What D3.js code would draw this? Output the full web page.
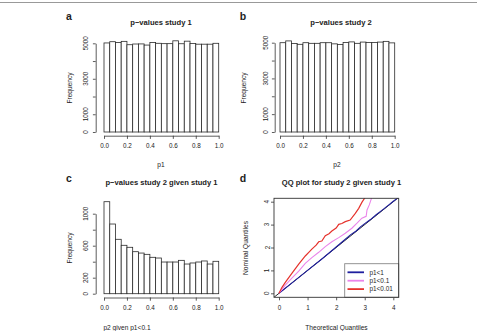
<!DOCTYPE html>
<html>
<head>
<meta charset="utf-8">
<title>p-values study 1 / study 2</title>
<script src="https://d3js.org/d3.v7.min.js"></script>
<style>
body { margin: 0; background: #fff; }
svg text { font-family: "Liberation Sans", Arial, Helvetica, sans-serif; fill: #222; }
</style>
</head>
<body>
<div id="chart"></div>
<script>
// histogram bins (20 bins of width 0.05)
var binEdges = [0, 0.05, 0.1, 0.15, 0.2, 0.25, 0.3, 0.35, 0.4, 0.45, 0.5,
                0.55, 0.6, 0.65, 0.7, 0.75, 0.8, 0.85, 0.9, 0.95, 1.0];
var study1Counts = [5020, 5090, 5050, 5110, 4920, 4960, 4965, 4900, 5040, 5000,
                    4980, 4980, 5140, 4975, 5120, 4990, 4950, 4950, 4950, 5000];
var study2Counts = [5000, 5100, 4960, 4910, 5000, 4965, 4965, 5000, 5000, 4935,
                    4900, 5015, 5045, 4965, 5035, 5015, 5015, 5035, 5075, 4990];
var study2GivenCounts = [1150, 871, 680, 605, 580, 525, 508, 492, 455, 446,
                         396, 396, 396, 417, 371, 384, 396, 409, 371, 405];

var histTicksX = [0, 0.2, 0.4, 0.6, 0.8, 1.0];
var uniformTicksY = [0, 1000, 2000, 3000, 4000, 5000];
var uniformLabelsY = [0, 1000, 3000, 5000];
var givenTicksY = [0, 200, 400, 600, 800, 1000];
var givenLabelsY = [0, 200, 600, 1000];
var qqTicks = [0, 1, 2, 3, 4];

// QQ curves: [theoretical, nominal]
var qqAll = [[0, 0], [0.5, 0.5], [1, 1.0], [1.5, 1.5], [2, 2.02], [2.3, 2.34], [2.5, 2.55],
             [2.7, 2.72], [2.85, 2.9], [3.0, 3.04], [3.2, 3.22], [3.4, 3.43], [3.6, 3.62],
             [3.8, 3.82], [4.0, 4.02], [4.25, 4.25]];
var qqP01 = [[0, 0], [0.22, 0.36], [0.45, 0.66], [0.69, 0.97], [0.92, 1.31], [1.15, 1.56],
             [1.39, 1.79], [1.62, 2.04], [1.85, 2.25], [2.09, 2.43], [2.32, 2.62],
             [2.55, 2.84], [2.73, 3.06], [2.9, 3.28], [3.05, 3.36], [3.08, 3.64],
             [3.16, 3.86], [3.25, 4.2]];
var qqP001 = [[0, 0], [0.1, 0.25], [0.22, 0.48], [0.45, 0.87], [0.69, 1.27], [0.92, 1.63],
              [1.05, 1.8], [1.15, 1.93], [1.3, 2.1], [1.39, 2.25], [1.5, 2.28],
              [1.62, 2.52], [1.75, 2.6], [1.85, 2.72], [2.0, 2.85], [2.09, 3.01],
              [2.2, 3.05], [2.32, 3.13], [2.49, 3.2], [2.67, 3.49], [2.79, 3.71],
              [2.9, 3.97], [3.02, 4.2]];
var legendLabels = ["p1<1", "p1<0.1", "p1<0.01"];
var legendColors = ["#1f1f9e", "#ea84ea", "#e5322c"];

var svg = d3.select("#chart").append("svg")
  .attr("width", 477).attr("height", 331);

// thin rule at the top
svg.append("line").attr("x1", 0).attr("x2", 477).attr("y1", 2.5).attr("y2", 2.5)
  .style("stroke", "#999").style("stroke-width", 1);

function panelLetter(txt, x, y) {
  svg.append("text").attr("x", x).attr("y", y).text(txt)
    .style("font-size", "10.5px").style("font-weight", "bold").attr("text-anchor", "middle");
}
function title(txt, x, y) {
  svg.append("text").attr("x", x).attr("y", y).text(txt)
    .style("font-size", "7.6px").style("font-weight", "bold").attr("text-anchor", "middle");
}
function label(txt, x, y, rot) {
  var t = svg.append("text").attr("x", x).attr("y", y).text(txt)
    .style("font-size", "6.6px").attr("text-anchor", "middle");
  if (rot) t.attr("transform", "rotate(-90," + x + "," + y + ")");
}

function styleAxis(g) {
  g.selectAll("path, line").style("stroke", "#333").style("stroke-width", 0.8);
  g.selectAll("text").style("font-size", "6.3px").style("fill", "#222")
    .style("font-family", '"Liberation Sans", Arial, sans-serif');
}

// y axis with R-style rotated labels
function yAxis(y, axisX, labelX, ticks, labels) {
  var g = svg.append("g").attr("transform", "translate(" + axisX + ",0)")
    .call(d3.axisLeft(y).tickValues(ticks).tickSize(2.8).tickSizeOuter(0).tickFormat(""));
  styleAxis(g);
  svg.append("g").selectAll("text").data(labels).join("text")
    .attr("x", labelX).attr("y", function(d) { return y(d); })
    .attr("transform", function(d) { return "rotate(-90," + labelX + "," + y(d) + ")"; })
    .attr("text-anchor", "middle")
    .style("font-size", "6.3px")
    .text(function(d) { return d; });
}

function histogram(cfg) {
  var x = d3.scaleLinear().domain([0, 1]).range(cfg.xr);
  var y = d3.scaleLinear().domain([0, cfg.ymax]).range(cfg.yr);
  svg.append("g").selectAll("rect").data(cfg.counts).join("rect")
    .attr("x", function(d, i) { return x(binEdges[i]); })
    .attr("width", function(d, i) { return x(binEdges[i + 1]) - x(binEdges[i]); })
    .attr("y", function(d) { return y(d); })
    .attr("height", function(d) { return y(0) - y(d); })
    .style("fill", "#fff").style("stroke", "#2a2a2a").style("stroke-width", 0.8);
  var gx = svg.append("g").attr("transform", "translate(0," + cfg.axisY + ")")
    .call(d3.axisBottom(x).tickValues(histTicksX).tickSize(3.2).tickSizeOuter(0)
      .tickFormat(d3.format(".1f")).tickPadding(5));
  styleAxis(gx);
  yAxis(y, cfg.axisX, cfg.labelX, cfg.ticksY, cfg.labelsY);
}

// panel a
panelLetter("a", 69, 20);
title("p\u2212values study 1", 161, 24.5);
histogram({ xr: [104, 218.7], yr: [132, 43.3], ymax: 5000, counts: study1Counts,
  axisY: 135.7, axisX: 95.7, labelX: 88, ticksY: uniformTicksY, labelsY: uniformLabelsY });
label("Frequency", 72, 88, true);
label("p1", 161, 166.5);

// panel b
panelLetter("b", 243, 20);
title("p\u2212values study 2", 341, 24.5);
histogram({ xr: [280, 394.7], yr: [132, 42.7], ymax: 5000, counts: study2Counts,
  axisY: 135.7, axisX: 274.7, labelX: 268, ticksY: uniformTicksY, labelsY: uniformLabelsY });
label("Frequency", 246, 88, true);
label("p2", 337, 166.5);

// panel c
panelLetter("c", 69, 182);
title("p\u2212values study 2 given study 1", 161.5, 184.5);
histogram({ xr: [104, 218.7], yr: [293.7, 213.7], ymax: 1000, counts: study2GivenCounts,
  axisY: 297.5, axisX: 95.7, labelX: 88, ticksY: givenTicksY, labelsY: givenLabelsY });
label("Frequency", 72, 248, true);
label("p2 given p1<0.1", 127, 329.5);

// panel d: QQ plot
panelLetter("d", 243, 182);
title("QQ plot for study 2 given study 1", 341.5, 184.5);
var qx = d3.scaleLinear().domain([0, 4]).range([279, 393.3]);
var qy = d3.scaleLinear().domain([0, 4]).range([293.3, 201.7]);
var box = { x0: 274, x1: 398.7, y0: 198.3, y1: 297.3 };

svg.append("clipPath").attr("id", "qqclip").append("rect")
  .attr("x", box.x0).attr("y", box.y0)
  .attr("width", box.x1 - box.x0).attr("height", box.y1 - box.y0);
var plot = svg.append("g").attr("clip-path", "url(#qqclip)");
var line = d3.line().x(function(d) { return qx(d[0]); }).y(function(d) { return qy(d[1]); });

plot.append("path").datum([[-0.5, -0.5], [4.5, 4.5]]).attr("d", line)
  .style("fill", "none").style("stroke", "#111").style("stroke-width", 0.9);
plot.append("path").datum(qqAll).attr("d", line)
  .style("fill", "none").style("stroke", legendColors[0]).style("stroke-width", 1.1);
plot.append("path").datum(qqP01).attr("d", line)
  .style("fill", "none").style("stroke", legendColors[1]).style("stroke-width", 1.1);
plot.append("path").datum(qqP001).attr("d", line)
  .style("fill", "none").style("stroke", legendColors[2]).style("stroke-width", 1.2);

var gqx = svg.append("g").attr("transform", "translate(0," + box.y1 + ")")
  .call(d3.axisBottom(qx).tickValues(qqTicks).tickSize(3).tickSizeOuter(0).tickPadding(5)
    .tickFormat(d3.format("d")));
styleAxis(gqx);
gqx.select(".domain").remove();
var gqy = svg.append("g").attr("transform", "translate(" + box.x0 + ",0)")
  .call(d3.axisLeft(qy).tickValues(qqTicks).tickSize(3).tickSizeOuter(0).tickFormat(""));
styleAxis(gqy);
gqy.select(".domain").remove();
svg.append("g").selectAll("text").data(qqTicks).join("text")
  .attr("x", 269.5).attr("y", function(d) { return qy(d); })
  .attr("transform", function(d) { return "rotate(-90,269.5," + qy(d) + ")"; })
  .attr("text-anchor", "middle").style("font-size", "6.3px")
  .text(function(d) { return d; });

// legend
var leg = svg.append("g");
leg.append("rect").attr("x", 344.7).attr("y", 263.7)
  .attr("width", box.x1 - 344.7).attr("height", box.y1 - 263.7)
  .style("fill", "#fff").style("stroke", "#888").style("stroke-width", 0.9);
leg.selectAll("line.key").data(legendLabels).join("line").attr("class", "key")
  .attr("x1", 347.5).attr("x2", 364)
  .attr("y1", function(d, i) { return 272.3 + i * 8.4; })
  .attr("y2", function(d, i) { return 272.3 + i * 8.4; })
  .style("stroke", function(d, i) { return legendColors[i]; }).style("stroke-width", 1.8);
leg.selectAll("text").data(legendLabels).join("text")
  .attr("x", 369.5).attr("y", function(d, i) { return 274.6 + i * 8.4; })
  .style("font-size", "6.4px").text(function(d) { return d; });

// plot box
svg.append("rect").attr("x", box.x0).attr("y", box.y0)
  .attr("width", box.x1 - box.x0).attr("height", box.y1 - box.y0)
  .style("fill", "none").style("stroke", "#333").style("stroke-width", 0.9);

label("Nominal Quantiles", 248, 248, true);
label("Theoretical Quantiles", 336.5, 329.5);
</script>
</body>
</html>
